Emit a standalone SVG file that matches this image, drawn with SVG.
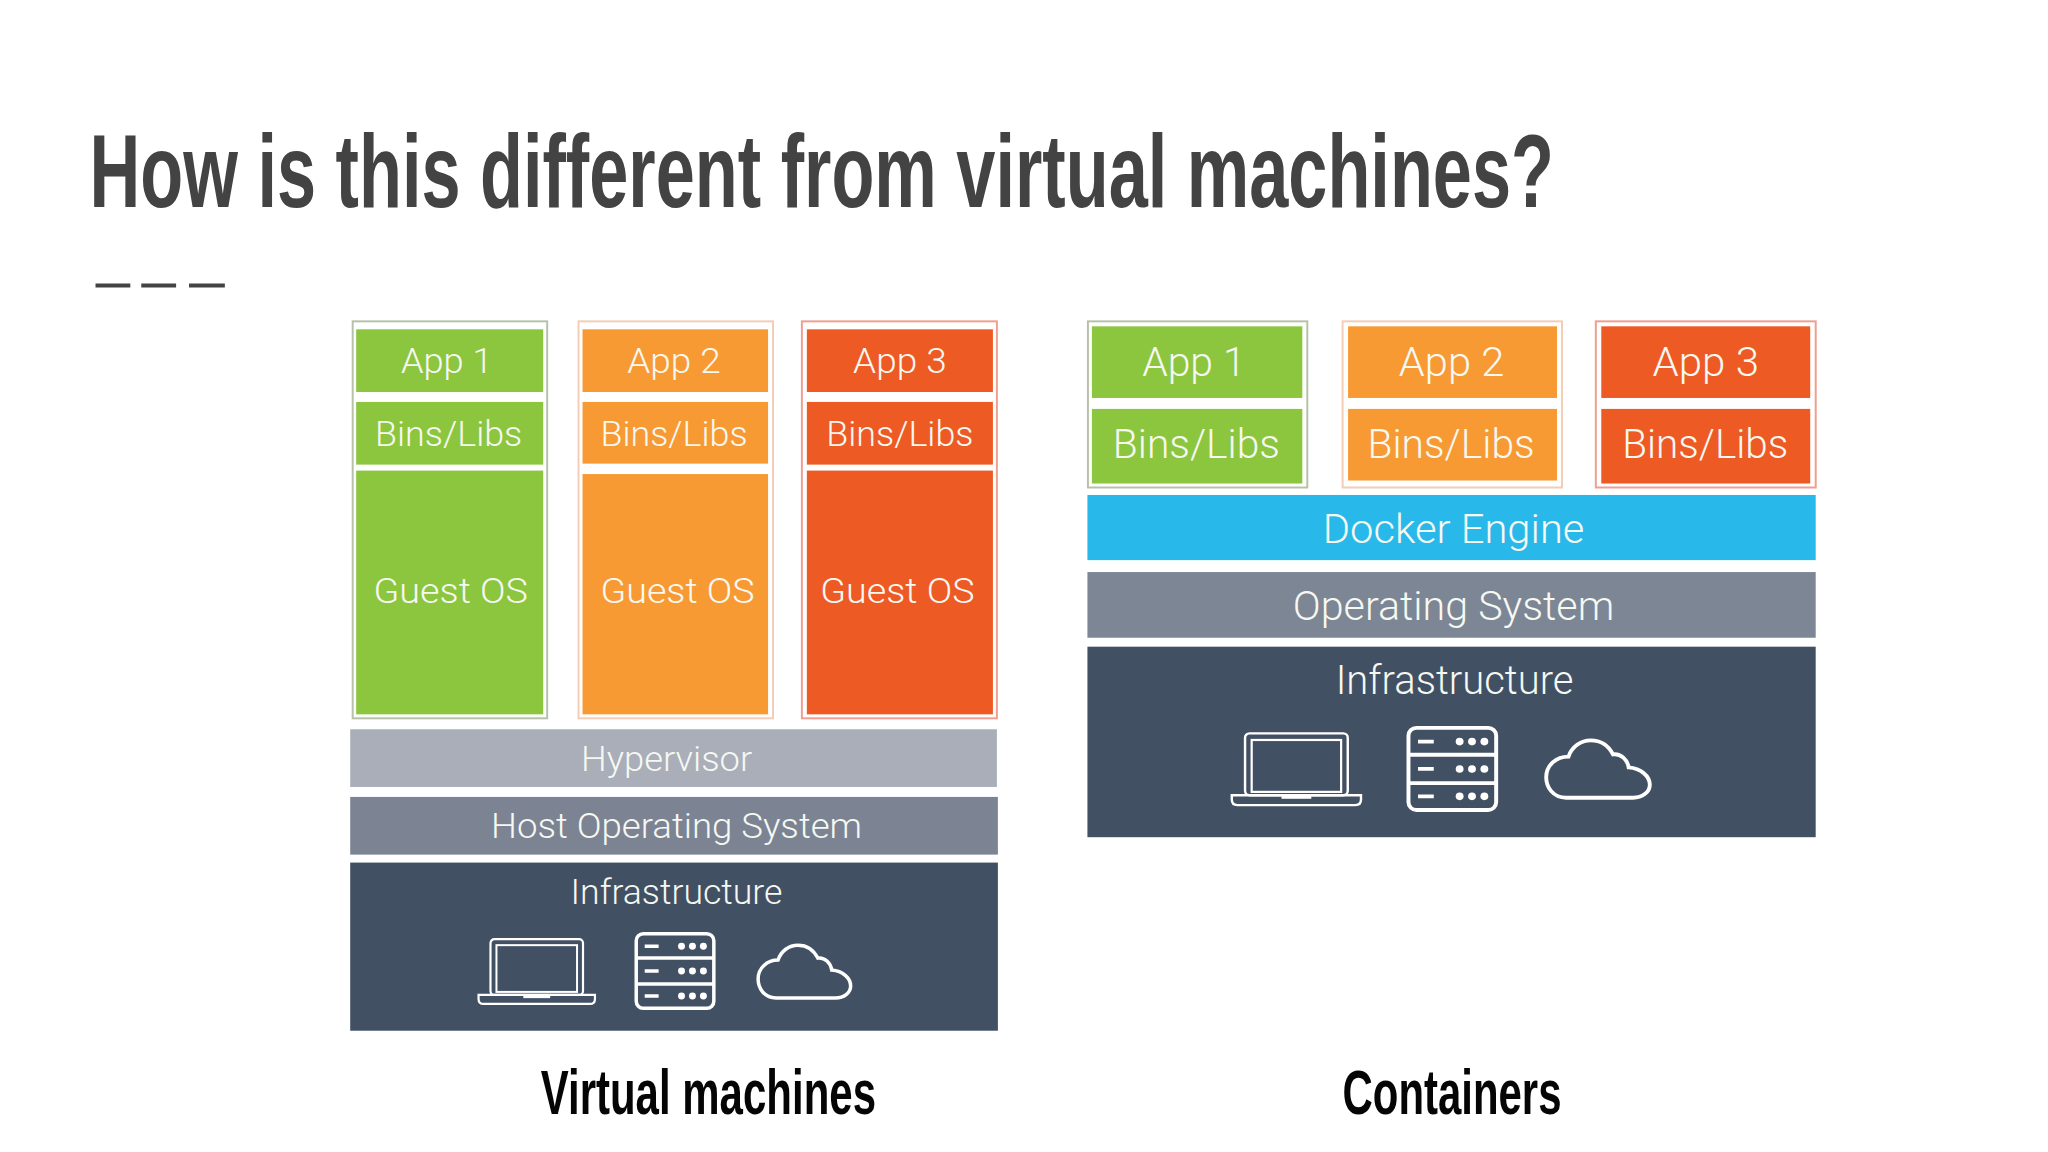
<svg xmlns="http://www.w3.org/2000/svg" width="2048" height="1152" viewBox="0 0 2048 1152">
<style>
.l{font-family:Roboto,"Liberation Sans",sans-serif;font-weight:300;fill:#f6f8f2;text-anchor:middle;font-size:36px}
.c{font-size:41px}
.t{font-family:"Liberation Sans",Arial,sans-serif;font-weight:700;font-size:104px;fill:#434343}
.cap{font-family:"Liberation Sans",Arial,sans-serif;font-weight:700;font-size:64px;fill:#050505}
.g{fill:#8cc63f}.o{fill:#f89a33}.r{fill:#ee5a24}
.og{fill:none;stroke:#b6c2a8;stroke-width:2}.oo{fill:none;stroke:#f3cdb6;stroke-width:2}.or{fill:none;stroke:#ee9f90;stroke-width:2}
.i{fill:none;stroke:#fff;stroke-width:3}
.d{fill:#fff}
</style>
<defs>
<g id="laptop"><rect class="i" x="13" y="1" width="93" height="56" rx="4" style="stroke-width:2.200"/><rect class="i" x="19" y="7" width="81" height="47" style="stroke-width:2"/><path class="i" d="M1 57H118V61Q118 66 113 66H6Q1 66 1 61Z" style="stroke-width:2.200"/><path class="i" d="M46 59H73" style="stroke-width:2.500"/></g>
<g id="server"><rect class="i" x="1.500" y="1.500" width="78" height="75" rx="7" style="stroke-width:3.500"/><path class="i" d="M1.500 26H79.500M1.500 52H79.500M10 14H24M10 39H24M10 64H24" style="stroke-width:3.500"/><g class="d"><circle cx="47" cy="14" r="3.500"/><circle cx="58" cy="14" r="3.500"/><circle cx="69" cy="14" r="3.500"/><circle cx="47" cy="39" r="3.500"/><circle cx="58" cy="39" r="3.500"/><circle cx="69" cy="39" r="3.500"/><circle cx="47" cy="64" r="3.500"/><circle cx="58" cy="64" r="3.500"/><circle cx="69" cy="64" r="3.500"/></g></g>
<path id="cloud" class="i" d="M19 54C7 54 1 44 1 35C1 24 10 16 21 16C24 7 32 1 41 1C50 1 57 6 61 14C68 13 74 19 75 26C86 27 94 34 94 42C94 49 87 54 79 54Z" style="stroke-width:3.500"/>
</defs>
<rect width="2048" height="1152" fill="#fff"/>
<g transform="scale(.9949)">
<g id="title">
<text class="t" transform="translate(90 208) scale(.62 1)" x="0" y="0" textLength="2374" lengthAdjust="spacingAndGlyphs">How is this different from virtual machines?</text>
<path d="M96 287H131M142 287H177M190 287H226" stroke="#434343" stroke-width="4" fill="none"/>
</g>
<g id="connectors"/>
<g id="vm-app1">
<rect class="og" x="354.500" y="323" width="195.500" height="399"/>
<rect class="g" x="358" y="331" width="188" height="63"/><text class="l" x="449" y="375" textLength="92" lengthAdjust="spacingAndGlyphs">App 1</text>
<rect class="g" x="358" y="404" width="188" height="63"/><text class="l" x="451" y="448" textLength="148" lengthAdjust="spacingAndGlyphs">Bins/Libs</text>
<rect class="g" x="358" y="473" width="188" height="245"/><text class="l" x="453" y="606" textLength="155" lengthAdjust="spacingAndGlyphs">Guest OS</text>
</g>
<g id="vm-app2">
<rect class="oo" x="581.500" y="323" width="195.500" height="399"/>
<rect class="o" x="585.500" y="331" width="186.500" height="63"/><text class="l" x="677.500" y="375" textLength="94" lengthAdjust="spacingAndGlyphs">App 2</text>
<rect class="o" x="585.500" y="404" width="186.500" height="62"/><text class="l" x="677.500" y="448" textLength="148" lengthAdjust="spacingAndGlyphs">Bins/Libs</text>
<rect class="o" x="585.500" y="476.500" width="186.500" height="241.500"/><text class="l" x="681" y="606" textLength="155" lengthAdjust="spacingAndGlyphs">Guest OS</text>
</g>
<g id="vm-app3">
<rect class="or" x="806" y="323" width="196" height="399"/>
<rect class="r" x="811" y="331" width="187" height="63"/><text class="l" x="904.500" y="375" textLength="94" lengthAdjust="spacingAndGlyphs">App 3</text>
<rect class="r" x="811" y="404" width="187" height="63"/><text class="l" x="904.500" y="448" textLength="148" lengthAdjust="spacingAndGlyphs">Bins/Libs</text>
<rect class="r" x="811" y="473" width="187" height="245"/><text class="l" x="902" y="606" textLength="155" lengthAdjust="spacingAndGlyphs">Guest OS</text>
</g>
<g id="vm-hypervisor"><rect x="352" y="733" width="650" height="58" fill="#a9aeb8"/><text class="l" x="670" y="775" textLength="172" lengthAdjust="spacingAndGlyphs">Hypervisor</text></g>
<g id="vm-host-os"><rect x="352" y="801" width="651" height="58" fill="#7c8494"/><text class="l" x="680" y="842" textLength="373" lengthAdjust="spacingAndGlyphs">Host Operating System</text></g>
<g id="vm-infrastructure"><rect x="352" y="867" width="651" height="169" fill="#425064"/><text class="l" x="680" y="909" textLength="213" lengthAdjust="spacingAndGlyphs">Infrastructure</text>
<use href="#laptop" transform="translate(480 943)"/><use href="#server" transform="translate(638 937)"/><use href="#cloud" transform="translate(761 949)"/></g>
<g id="caption-vm"><text class="cap" x="543.500" y="1120" textLength="337" lengthAdjust="spacingAndGlyphs">Virtual machines</text></g>
<g id="c-app1">
<rect class="og" x="1093.500" y="323" width="220.500" height="167"/>
<rect class="g" x="1097.500" y="328" width="211.500" height="72"/><text class="l c" x="1200" y="378" textLength="104" lengthAdjust="spacingAndGlyphs">App 1</text>
<rect class="g" x="1097.500" y="411" width="211.500" height="75"/><text class="l c" x="1202.500" y="460" textLength="168" lengthAdjust="spacingAndGlyphs">Bins/Libs</text>
</g>
<g id="c-app2">
<rect class="oo" x="1349.500" y="323" width="220.500" height="167"/>
<rect class="o" x="1355" y="328" width="210" height="72"/><text class="l c" x="1459" y="378" textLength="106" lengthAdjust="spacingAndGlyphs">App 2</text>
<rect class="o" x="1355" y="411" width="210" height="72"/><text class="l c" x="1458.500" y="460" textLength="168" lengthAdjust="spacingAndGlyphs">Bins/Libs</text>
</g>
<g id="c-app3">
<rect class="or" x="1604" y="323" width="221" height="167"/>
<rect class="r" x="1609.500" y="328" width="210" height="72"/><text class="l c" x="1714.500" y="378" textLength="107" lengthAdjust="spacingAndGlyphs">App 3</text>
<rect class="r" x="1609.500" y="411" width="210" height="75"/><text class="l c" x="1714" y="460" textLength="167" lengthAdjust="spacingAndGlyphs">Bins/Libs</text>
</g>
<g id="c-docker"><rect x="1093" y="497.500" width="732" height="65.500" fill="#29b8ea"/><text class="l c" x="1461" y="546" textLength="263" lengthAdjust="spacingAndGlyphs">Docker Engine</text></g>
<g id="c-os"><rect x="1093" y="575" width="732" height="66" fill="#7c8694"/><text class="l c" x="1461" y="623" textLength="323" lengthAdjust="spacingAndGlyphs">Operating System</text></g>
<g id="c-infrastructure"><rect x="1093" y="650" width="732" height="191.500" fill="#425064"/><text class="l c" x="1462" y="698" textLength="239" lengthAdjust="spacingAndGlyphs">Infrastructure</text>
<use href="#laptop" transform="translate(1237 736) scale(1.11)"/><use href="#server" transform="translate(1414 730) scale(1.13 1.1)"/><use href="#cloud" transform="translate(1553 743) scale(1.12 1.09)"/></g>
<g id="caption-containers"><text class="cap" x="1349.500" y="1120" textLength="220" lengthAdjust="spacingAndGlyphs">Containers</text></g>
</g>
</svg>
